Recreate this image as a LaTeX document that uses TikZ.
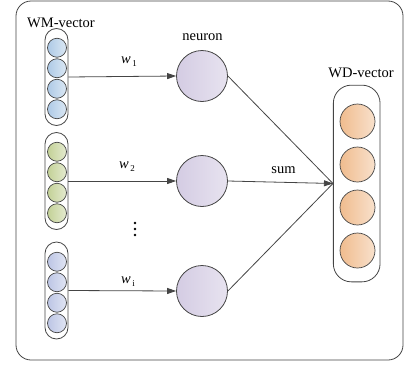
\documentclass[tikz,border=0pt]{standalone}
\usepackage{fontspec}
\setmainfont{Liberation Serif}
\usetikzlibrary{arrows.meta}

\definecolor{wmblue}{HTML}{AECAE6}
\definecolor{wmgreen}{HTML}{C3D196}
\definecolor{wmlav}{HTML}{BCC5E5}
\definecolor{neurcol}{HTML}{D4CCE3}
\definecolor{wdorange}{HTML}{F0BC8E}
\definecolor{linecol}{HTML}{454545}

\newcommand{\wlab}[1]{\textit{w}\kern1.5pt\raisebox{-3.5pt}{\fontsize{9}{9}\selectfont #1}}

\begin{document}
\begin{tikzpicture}[x=1pt,y=-1pt,
  lbl/.style={font=\fontsize{14.5}{16}\selectfont, inner sep=0pt},
  capsule/.style={draw=linecol, line width=0.8pt, rounded corners=11.5pt,
    minimum width=23pt, minimum height=97pt, inner sep=0pt},
  unit/.style={circle, draw=linecol, line width=0.7pt, minimum size=19pt,
    inner sep=0pt, left color=#1, right color=#1!45!white},
  neuron/.style={circle, draw=linecol, line width=0.8pt, minimum size=51pt,
    inner sep=0pt, left color=neurcol, right color=neurcol!55!white},
  link/.style={draw=linecol, line width=0.8pt, -{Triangle[length=9pt,width=6pt]}}]

\useasboundingbox (0,0) rectangle (409,367);
\draw[linecol, line width=0.8pt, rounded corners=15pt] (16,1) rectangle (403,360);

% input vectors
\node[capsule] (wm1) at (56.5,77) {};
\node[capsule] (wm2) at (56.5,181) {};
\node[capsule] (wm3) at (56.5,290.5) {};
\foreach \k/\dy in {1/-30.75,2/-10.25,3/10.25,4/30.75}{
  \node[unit=wmblue] (wm1-\k) at (57,78.5+\dy) {};
  \node[unit=wmgreen] (wm2-\k) at (57,182.5+\dy) {};
  \node[unit=wmlav] (wm3-\k) at (57,292.5+\dy) {};
}
\node[lbl, anchor=base] (wmlabel) at (61,27) {WM-vector};

% neurons
\node[neuron] (n1) at (202,76) {};
\node[neuron] (n2) at (202,181) {};
\node[neuron] (n3) at (202,291) {};
\node[lbl, anchor=base] (nlabel) at (202.5,40.5) {neuron};

% output vector
\node[capsule, rounded corners=18pt, minimum width=46.7pt, minimum height=196.7pt] (wd) at (356.7,183.5) {};
\foreach \k/\dy in {1/-64.5,2/-21.5,3/21.5,4/64.5}
  \node[unit=wdorange, minimum size=35pt] (wd-\k) at (357.5,186+\dy) {};
\node[lbl, anchor=base] (wdlabel) at (361,77) {WD-vector};

% connections
\draw[link] (wm1.east) -- (n1.west);
\draw[link] (wm2.east) -- (n2.west);
\draw[link] (wm3.east) -- (n3.west);
\draw[linecol, line width=0.8pt] (n1.east) -- (wd.west);
\draw[link] (n2.east) -- (wd.west);
\draw[linecol, line width=0.8pt] (n3.east) -- (wd.west);

\node[lbl, anchor=base] (w1) at (129,63) {\wlab{1}};
\node[lbl, anchor=base] (w2) at (127,168) {\wlab{2}};
\node[lbl, anchor=base] (wi) at (128,283) {\wlab{i}};
\node[lbl, anchor=base] (sumlabel) at (283.5,173) {sum};

\foreach \y in {223,229,235}
  \fill[black] (135,\y) circle (1.4pt);
\end{tikzpicture}
\end{document}
